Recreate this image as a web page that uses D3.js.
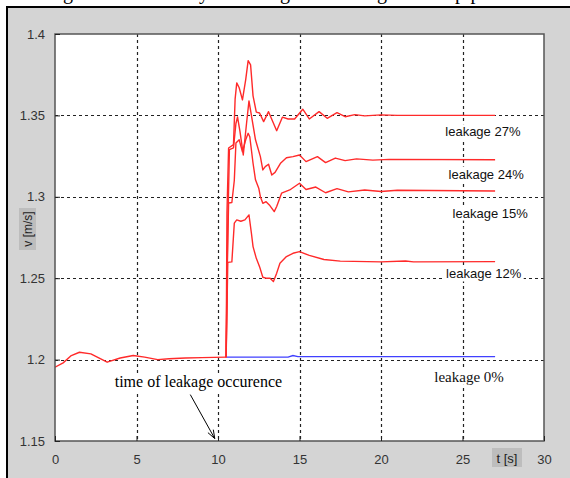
<!DOCTYPE html>
<html><head><meta charset="utf-8">
<script src="https://cdn.jsdelivr.net/npm/d3@7"></script>
<style>html,body{margin:0;padding:0;background:#fff;}svg{display:block;}</style>
</head><body>
<script>
// ---- data ----
const xTicks = [0, 5, 10, 15, 20, 25, 30];
const yTicks = [1.15, 1.2, 1.25, 1.3, 1.35, 1.4];
const yTickLabels = ["1.15", "1.2", "1.25", "1.3", "1.35", "1.4"];
const xLabel = "t [s]";
const yLabel = "v [m/s]";
const topWords = ["Change", "velocity", "during", "leakage", "pipe"];

// common signal before leakage [t, v]
const baseline = [[0,1.1953],[0.5,1.198],[1.0,1.2025],[1.5,1.2045],[2.2,1.2035],[3.2,1.1984],[4.0,1.2010],[4.8,1.2025],[5.5,1.2015],[6.3,1.2000],[7.0,1.2005],[8.0,1.2010],[9.0,1.2012],[10.5,1.2015]];
const leak27 = [[10.5,1.2015],[10.55,1.29],[10.65,1.33],[10.95,1.332],[11.05,1.36],[11.15,1.370],[11.3,1.367],[11.5,1.3595],[11.7,1.372],[11.85,1.3836],[12.0,1.381],[12.15,1.362],[12.35,1.352],[12.55,1.3515],[12.8,1.3462],[13.1,1.3523],[13.6,1.3406],[13.95,1.3489],[14.3,1.3478],[14.7,1.3478],[15.2,1.3538],[15.6,1.3478],[16.2,1.3523],[16.7,1.3482],[17.3,1.3517],[17.8,1.3492],[18.4,1.3505],[19.0,1.3497],[20.0,1.3503],[21.0,1.3500],[27.0,1.3500]];
const leak24 = [[10.5,1.2015],[10.6,1.28],[10.7,1.329],[10.95,1.330],[11.1,1.345],[11.2,1.349],[11.35,1.340],[11.55,1.3257],[11.75,1.345],[11.9,1.3589],[12.05,1.350],[12.3,1.335],[12.6,1.3247],[12.75,1.3165],[12.9,1.3185],[13.1,1.3200],[13.3,1.3134],[13.5,1.3150],[13.85,1.3208],[14.2,1.3240],[14.6,1.3247],[15.0,1.3257],[15.4,1.3216],[16.1,1.3247],[16.6,1.3210],[17.2,1.3238],[17.8,1.3222],[18.5,1.3233],[19.5,1.3225],[20.5,1.3230],[27.0,1.3228]];
const leak15 = [[10.5,1.2015],[10.55,1.25],[10.65,1.2962],[10.85,1.2965],[11.0,1.31],[11.1,1.333],[11.3,1.335],[11.5,1.3277],[11.7,1.335],[11.85,1.339],[11.95,1.3369],[12.15,1.3206],[12.3,1.3104],[12.5,1.3053],[12.6,1.3001],[12.75,1.2960],[12.95,1.2970],[13.15,1.2950],[13.45,1.2909],[13.6,1.2940],[13.9,1.3022],[14.4,1.3042],[15.0,1.3083],[15.4,1.3045],[16.0,1.3060],[16.6,1.3025],[17.3,1.3050],[18.0,1.3030],[19.0,1.3042],[20.0,1.3033],[21.0,1.3040],[27.0,1.3036]];
const leak12 = [[10.5,1.2015],[10.6,1.2597],[10.85,1.2600],[11.0,1.2838],[11.15,1.2858],[11.4,1.2850],[11.65,1.2858],[11.9,1.2889],[12.05,1.2776],[12.15,1.2694],[12.35,1.2622],[12.55,1.2571],[12.75,1.2506],[12.95,1.2500],[13.2,1.2500],[13.4,1.2479],[13.6,1.2531],[13.8,1.2592],[14.2,1.2633],[14.6,1.2653],[15.0,1.2663],[15.6,1.2640],[16.5,1.2615],[17.5,1.2605],[20.0,1.2600],[21.5,1.2606],[22.0,1.2600],[27.0,1.2602]];
const leak0 = [[10.5,1.2015],[14.3,1.2015],[14.6,1.2025],[14.9,1.2018],[27.0,1.2018]];

const redSeries = [baseline, leak27, leak24, leak15, leak12];
const curveLabels = [
  {text:"leakage 27%", t:26.25, v:1.3400, serif:false},
  {text:"leakage 24%", t:26.45, v:1.3140, serif:false},
  {text:"leakage 15%", t:26.7,  v:1.2900, serif:false},
  {text:"leakage 12%", t:26.3,  v:1.2526, serif:false},
  {text:"leakage 0%",  t:25.4,  v:1.1894, serif:true}
];
const annotText = "time of leakage occurence";

// ---- drawing ----
const W = 570, H = 478;
const svg = d3.select("body").append("svg").attr("width", W).attr("height", H);

// page white top with cropped text line of the document
svg.append("rect").attr("x",0).attr("y",0).attr("width",W).attr("height",H).attr("fill","#fff");
const wordX = [82, 209, 290, 396, 455];
const wordAnchor = ["end","end","end","end","start"];
topWords.forEach((w,i)=>{
  svg.append("text").attr("x",wordX[i]).attr("y",-1).attr("text-anchor",wordAnchor[i])
    .attr("font-family","Liberation Serif, Times New Roman, serif").attr("font-size",20).attr("fill","#000").text(w);
});

// figure frame
svg.append("rect").attr("x",7).attr("y",7).attr("width",W).attr("height",H)
  .attr("fill","#d4d4d4").attr("stroke","#000").attr("stroke-width",2);

const x = d3.scaleLinear().domain([0,30]).range([55,544]);
const y = d3.scaleLinear().domain([1.15,1.4]).range([441,34]);

// plot area
svg.append("rect").attr("x",x(0)).attr("y",y(1.4)).attr("width",x(30)-x(0)).attr("height",y(1.15)-y(1.4))
  .attr("fill","#fff");

// grid
const grid = svg.append("g");
grid.selectAll("line.gx").data(xTicks.filter(d=>d>0&&d<30)).join("line")
  .attr("x1",d=>Math.round(x(d))+0.5).attr("x2",d=>Math.round(x(d))+0.5)
  .attr("y1",y(1.4)).attr("y2",y(1.15))
  .attr("stroke","#222").attr("stroke-width",1.2).attr("stroke-dasharray","3,3");
grid.selectAll("line.gy").data(yTicks.filter(d=>d>1.15&&d<1.4)).join("line")
  .attr("x1",x(0)).attr("x2",x(30))
  .attr("y1",d=>Math.round(y(d))+0.5).attr("y2",d=>Math.round(y(d))+0.5)
  .attr("stroke","#222").attr("stroke-width",1).attr("stroke-dasharray","3,3");

// curves
svg.append("clipPath").attr("id","pc").append("rect")
  .attr("x",x(0)).attr("y",y(1.4)).attr("width",x(30)-x(0)).attr("height",y(1.15)-y(1.4));
const line = d3.line().x(d=>x(d[0])).y(d=>y(d[1]));
const curves = svg.append("g").attr("clip-path","url(#pc)");
curves.append("path").datum(leak0).attr("d",line).attr("fill","none")
  .attr("stroke","#4040ff").attr("stroke-width",1.4);
redSeries.forEach(s=>{
  curves.append("path").datum(s).attr("d",line).attr("fill","none")
    .attr("stroke","#ff2a2a").attr("stroke-width",1.4).attr("stroke-linejoin","round");
});

// curve labels with white background
curveLabels.forEach(l=>{
  const g = svg.append("g");
  const t = g.append("text").attr("x",x(l.t)).attr("y",y(l.v)).attr("text-anchor","middle")
    .attr("dominant-baseline","central")
    .attr("font-family", l.serif ? "Liberation Serif, Times New Roman, serif" : "Liberation Sans, Arial, sans-serif")
    .attr("font-size", l.serif ? 15 : 13).attr("fill","#111").text(l.text);
  const bb = t.node().getBBox();
  g.insert("rect","text").attr("x",bb.x-2).attr("y",bb.y).attr("width",bb.width+4).attr("height",bb.height).attr("fill","#fff");
});

// annotation
{
  const g = svg.append("g");
  const t = g.append("text").attr("x",x(8.8)).attr("y",y(1.1863)).attr("text-anchor","middle")
    .attr("dominant-baseline","central")
    .attr("font-family","Liberation Serif, Times New Roman, serif").attr("font-size",16).attr("fill","#000").text(annotText);
  const bb = t.node().getBBox();
  g.insert("rect","text").attr("x",bb.x-2).attr("y",bb.y).attr("width",bb.width+4).attr("height",bb.height).attr("fill","#fff");
  const x1 = x(8.3), y1 = y(1.1785), x2 = x(9.8), y2 = y(1.1515);
  g.append("line").attr("x1",x1).attr("y1",y1).attr("x2",x2).attr("y2",y2).attr("stroke","#000").attr("stroke-width",1);
  const ang = Math.atan2(y2-y1,x2-x1), L = 9, a = 0.35;
  g.append("path").attr("d",`M${x2-L*Math.cos(ang-a)},${y2-L*Math.sin(ang-a)}L${x2},${y2}L${x2-L*Math.cos(ang+a)},${y2-L*Math.sin(ang+a)}`)
    .attr("fill","none").attr("stroke","#000").attr("stroke-width",1);
}

// axes box
svg.append("rect").attr("x",x(0)).attr("y",y(1.4)).attr("width",x(30)-x(0)).attr("height",y(1.15)-y(1.4))
  .attr("fill","none").attr("stroke","#555").attr("stroke-width",1.5);

// axes with inward ticks
const fmtY = d => yTickLabels[yTicks.indexOf(d)];
const ax = svg.append("g").attr("transform",`translate(0,${y(1.15)})`)
  .call(d3.axisBottom(x).tickValues(xTicks).tickSize(-5).tickPadding(10).tickFormat(d3.format("d")));
const ay = svg.append("g").attr("transform",`translate(${x(0)},0)`)
  .call(d3.axisLeft(y).tickValues(yTicks).tickSize(-5).tickPadding(10).tickFormat(fmtY));
[ax, ay].forEach(a=>{
  a.select(".domain").remove();
  a.selectAll(".tick line").attr("stroke","#222");
  a.selectAll("text").attr("font-family","Liberation Sans, Arial, sans-serif").attr("font-size",13).attr("fill","#333");
});
ax.selectAll("text").attr("dy","1.0em");

// axis label boxes
{
  const g = svg.append("g");
  g.append("rect").attr("x",19).attr("y",208).attr("width",17).attr("height",42).attr("fill","#bdbdbd");
  g.append("text").attr("transform","translate(28,229) rotate(-90)").attr("text-anchor","middle")
    .attr("dominant-baseline","central").attr("font-family","Liberation Sans, Arial, sans-serif")
    .attr("font-size",12).attr("fill","#222").text(yLabel);
  g.append("rect").attr("x",492).attr("y",448).attr("width",30).attr("height",19).attr("fill","#bdbdbd");
  g.append("text").attr("x",507).attr("y",458).attr("text-anchor","middle")
    .attr("dominant-baseline","central").attr("font-family","Liberation Sans, Arial, sans-serif")
    .attr("font-size",13).attr("fill","#222").text(xLabel);
}
</script>
</body></html>
